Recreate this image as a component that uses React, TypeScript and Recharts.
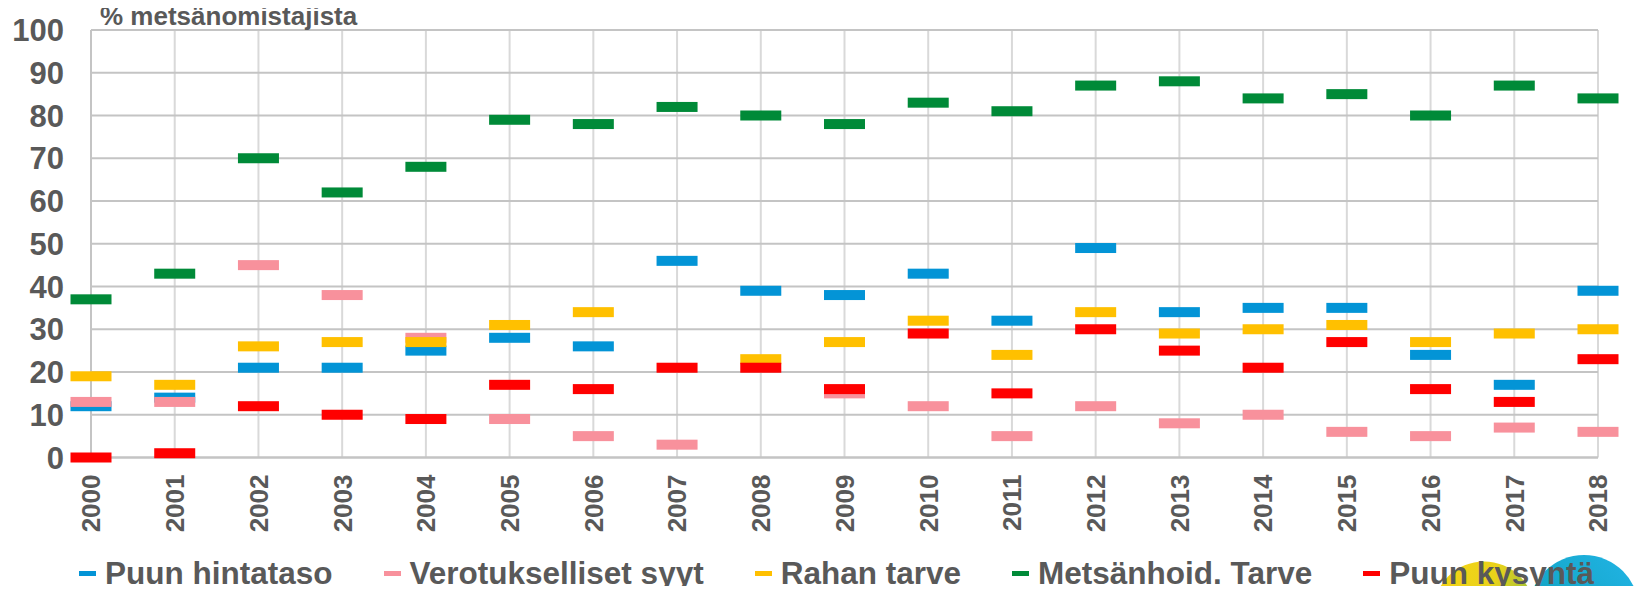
import React from 'react';
import { LineChart, Line, XAxis, YAxis, CartesianGrid } from 'recharts';

const years = ['2000','2001','2002','2003','2004','2005','2006','2007','2008','2009','2010','2011','2012','2013','2014','2015','2016','2017','2018'];
const puunHintataso = [12,14,21,21,25,28,26,46,39,38,43,32,49,34,35,35,24,17,39];
const verotukselliset = [13,13,45,38,28,9,5,3,null,15,12,5,12,8,10,6,5,7,6];
const rahanTarve = [19,17,26,27,27,31,34,null,23,27,32,24,34,29,30,31,27,29,30];
const metsanhoidTarve = [37,43,70,62,68,79,78,82,80,78,83,81,87,88,84,85,80,87,84];
const puunKysynta = [0,1,12,10,9,17,16,21,21,16,29,15,30,25,21,27,16,13,23];
const yTicks = [0,10,20,30,40,50,60,70,80,90,100];
const yTitle = '% metsänomistajista';

const series = [
  { key: 'hinta', name: 'Puun hintataso', color: '#0394d6', values: puunHintataso },
  { key: 'vero', name: 'Verotukselliset syyt', color: '#f8919c', values: verotukselliset },
  { key: 'raha', name: 'Rahan tarve', color: '#ffc000', values: rahanTarve },
  { key: 'metsa', name: 'Metsänhoid. Tarve', color: '#008a38', values: metsanhoidTarve },
  { key: 'kysynta', name: 'Puun kysyntä', color: '#ff0000', values: puunKysynta },
];

const data = years.map((year, i) => {
  const row: Record<string, any> = { year };
  series.forEach((s) => { row[s.key] = s.values[i]; });
  return row;
});

const FONT = 'Liberation Sans, Arial, Helvetica, sans-serif';
const TEXT = '#595959';

const makeDot = (color: string) => (props: any) => {
  const { cx, cy, index, value } = props;
  if (cx == null || cy == null || value == null || Number.isNaN(cy)) return <g key={`e-${index}`} />;
  return <rect key={`d-${index}`} x={cx - 20.5} y={cy - 5} width={41} height={10} fill={color} />;
};

const XTick = (props: any) => {
  const { x, y, payload } = props;
  return (
    <text transform={`translate(${x},${y}) rotate(-90)`} textAnchor="end" dy="0.36em"
      fontSize={26} fontWeight="bold" fill={TEXT} fontFamily={FONT}>{payload.value}</text>
  );
};

const YTick = (props: any) => {
  const { x, y, payload } = props;
  return (
    <text x={x} y={y} textAnchor="end" dy="0.36em" fontSize={31} fontWeight="bold" fill={TEXT} fontFamily={FONT}>{payload.value}</text>
  );
};

export default function App() {
  return (
    <div style={{ margin: -8, width: 1642, height: 594, position: 'relative', overflow: 'hidden', background: '#fff', fontFamily: FONT }}>
      <svg width={1642} height={594} style={{ position: 'absolute', left: 0, top: 0 }}>
        <defs>
          <linearGradient id="gy" x1="0" y1="0" x2="1" y2="0.3">
            <stop offset="0" stopColor="#f7d417" />
            <stop offset="0.6" stopColor="#e9d21a" />
            <stop offset="1" stopColor="#9cc23a" />
          </linearGradient>
          <linearGradient id="gt" x1="1" y1="0" x2="0" y2="1">
            <stop offset="0" stopColor="#22b4e6" />
            <stop offset="0.6" stopColor="#14a6c8" />
            <stop offset="1" stopColor="#0b9a7a" />
          </linearGradient>
        </defs>
        <circle cx={1484} cy={612} r={50.5} fill="url(#gy)" />
        <circle cx={1584} cy={610} r={55} fill="url(#gt)" />
      </svg>
      <div style={{ position: 'absolute', left: 0, top: 0 }}>
        <LineChart width={1642} height={594} data={data} margin={{ top: 30, right: 44, bottom: 76.5, left: 0 }}>
          <CartesianGrid horizontal={false} stroke="#d9d9d9" strokeWidth={2} />
          <CartesianGrid vertical={false} stroke="#c4c4c4" strokeWidth={2} />
          <XAxis dataKey="year" height={60} tick={<XTick />} tickLine={false} tickSize={0} tickMargin={17}
            axisLine={{ stroke: '#c4c4c4', strokeWidth: 2 }} interval={0} />
          <YAxis width={91} domain={[0, 100]} ticks={yTicks} tick={<YTick />} tickLine={false} tickSize={0} tickMargin={27}
            axisLine={{ stroke: '#c4c4c4', strokeWidth: 2 }} interval={0} />
          {series.map((s) => (
            <Line key={s.key} dataKey={s.key} name={s.name} stroke="none" dot={makeDot(s.color)} activeDot={false}
              isAnimationActive={false} legendType="none" />
          ))}
        </LineChart>
      </div>
      <div style={{ position: 'absolute', left: 100, top: 3, fontSize: 26, lineHeight: '26px', fontWeight: 'bold', color: TEXT, whiteSpace: 'nowrap' }}>{yTitle}</div>
      <div style={{ position: 'absolute', left: 79, top: 558, display: 'flex', alignItems: 'center', gap: 51, whiteSpace: 'nowrap' }}>
        {series.map((s) => (
          <div key={s.key} style={{ display: 'flex', alignItems: 'center' }}>
            <span style={{ display: 'inline-block', width: 17, height: 5, background: s.color, marginRight: 9 }} />
            <span style={{ fontSize: 31.5, lineHeight: '31.5px', fontWeight: 'bold', color: TEXT }}>{s.name}</span>
          </div>
        ))}
      </div>
    </div>
  );
}
